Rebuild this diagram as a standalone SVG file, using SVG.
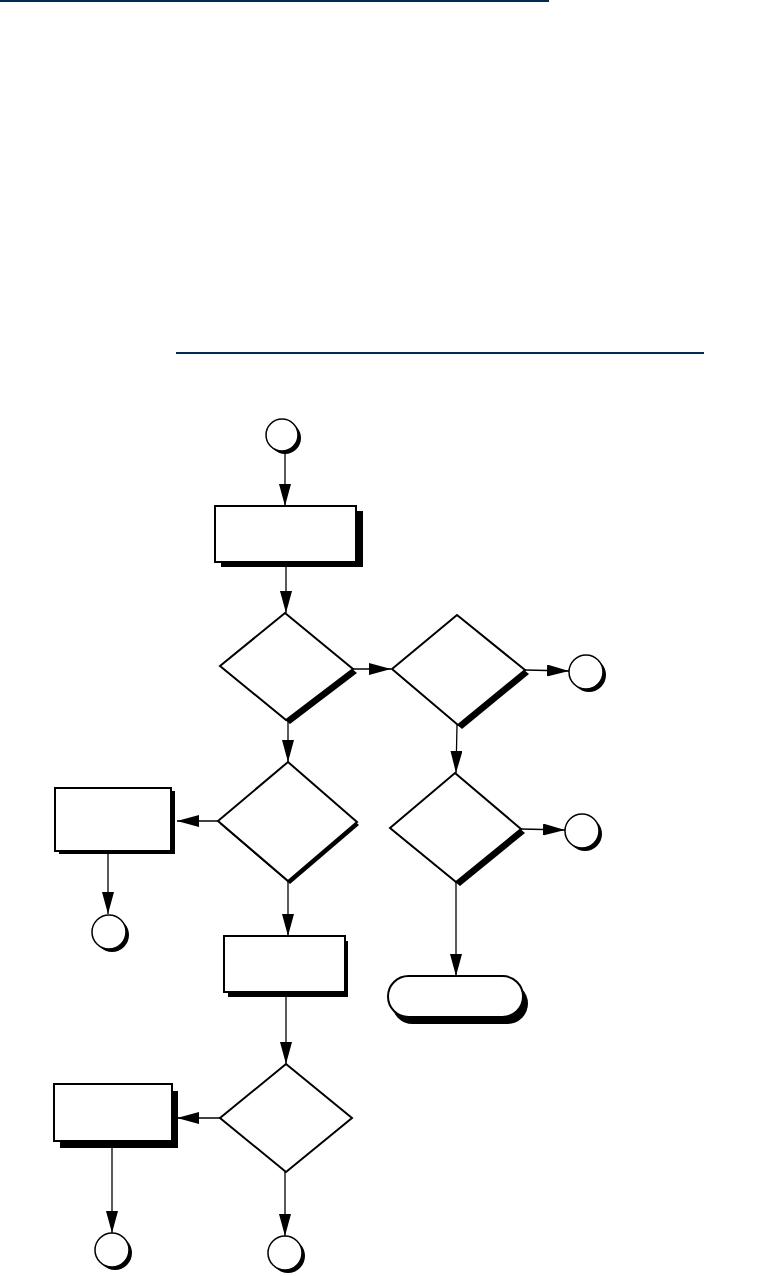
<svg xmlns="http://www.w3.org/2000/svg" width="763" height="1276" viewBox="0 0 763 1276">
<style>
.rule{stroke:#002a55;stroke-width:2;fill:none}
.box{fill:#fff;stroke:#000;stroke-width:2}
.sh{fill:#000;stroke:none}
.con{stroke:#000;stroke-width:1.3;fill:none;marker-end:url(#ah)}
.cir{fill:#fff;stroke:#000;stroke-width:1.5}
</style>
<defs>
<marker id="ah" markerUnits="userSpaceOnUse" markerWidth="22" markerHeight="12" refX="22" refY="6" orient="auto">
<path d="M0,0 L22,6 L0,12 z" fill="#000"/>
</marker>
</defs>
<rect width="763" height="1276" fill="#fff"/>
<line class="rule" x1="0" y1="1" x2="549" y2="1"/>
<line class="rule" x1="176" y1="353" x2="704" y2="353"/>

<g id="connectors">
<line class="con" x1="285" y1="452" x2="285" y2="506"/>
<line class="con" x1="286" y1="567" x2="286" y2="613"/>
<line class="con" x1="353" y1="669" x2="391" y2="669"/>
<line class="con" x1="525" y1="670" x2="569" y2="671"/>
<line class="con" x1="457" y1="725" x2="456" y2="773"/>
<line class="con" x1="521" y1="829" x2="565" y2="830"/>
<line class="con" x1="456" y1="882" x2="456" y2="976"/>
<line class="con" x1="288" y1="720" x2="288" y2="762"/>
<line class="con" x1="218" y1="821" x2="177" y2="821"/>
<line class="con" x1="108" y1="854" x2="108" y2="914"/>
<line class="con" x1="288" y1="881" x2="288" y2="936"/>
<line class="con" x1="286" y1="997" x2="286" y2="1064"/>
<line class="con" x1="220" y1="1118" x2="177" y2="1118"/>
<line class="con" x1="112" y1="1148" x2="112" y2="1233"/>
<line class="con" x1="285" y1="1172" x2="285" y2="1236"/>
</g>

<g id="start">
<circle class="sh" cx="285" cy="438" r="16"/>
<circle class="cir" cx="282" cy="435" r="16"/>
</g>
<g id="process1">
<rect class="sh" x="221" y="511" width="142" height="56"/>
<rect class="box" x="215" y="506" width="141" height="56"/>
</g>
<g id="decision1">
<polygon class="sh" points="289,617 357,673 290,724 224,670"/>
<polygon class="box" points="285,613 353,669 286,720 220,666"/>
</g>
<g id="decision2">
<polygon class="sh" points="461,619 529,674 462,729 396,673"/>
<polygon class="box" points="457,615 525,670 458,725 392,669"/>
</g>
<g id="connector-right1">
<circle class="sh" cx="589" cy="675" r="17"/>
<circle class="cir" cx="586" cy="672" r="17"/>
</g>
<g id="decision4">
<polygon class="sh" points="459,777 525,833 460,886 394,832"/>
<polygon class="box" points="455,773 521,829 456,882 390,828"/>
</g>
<g id="connector-right2">
<circle class="sh" cx="585" cy="834" r="17"/>
<circle class="cir" cx="582" cy="831" r="17"/>
</g>
<g id="terminator">
<rect class="sh" x="392" y="983" width="136" height="41" rx="20.5"/>
<rect class="box" x="388" y="976" width="135" height="41" rx="20.5"/>
</g>
<g id="decision3">
<polygon class="sh" points="290,765 359,825 290,884 220,824"/>
<polygon class="box" points="288,762 357,822 288,881 218,821"/>
</g>
<g id="process2">
<rect class="sh" x="59" y="791" width="116" height="63"/>
<rect class="box" x="55" y="788" width="116" height="63"/>
</g>
<g id="connector-left1">
<circle class="sh" cx="112" cy="935" r="17"/>
<circle class="cir" cx="109" cy="932" r="17"/>
</g>
<g id="process3">
<rect class="sh" x="228" y="941" width="120" height="56"/>
<rect class="box" x="224" y="936" width="121" height="56"/>
</g>
<g id="decision5">
<polygon class="box" points="286,1064 352,1118 286,1172 220,1118"/>
</g>
<g id="process4">
<rect class="sh" x="60" y="1091" width="118" height="57"/>
<rect class="box" x="54" y="1084" width="118" height="57"/>
</g>
<g id="connector-left2">
<circle class="sh" cx="115" cy="1253" r="17"/>
<circle class="cir" cx="112" cy="1250" r="17"/>
</g>
<g id="connector-bottom">
<circle class="sh" cx="288" cy="1256" r="17"/>
<circle class="cir" cx="285" cy="1253" r="17"/>
</g>
</svg>
